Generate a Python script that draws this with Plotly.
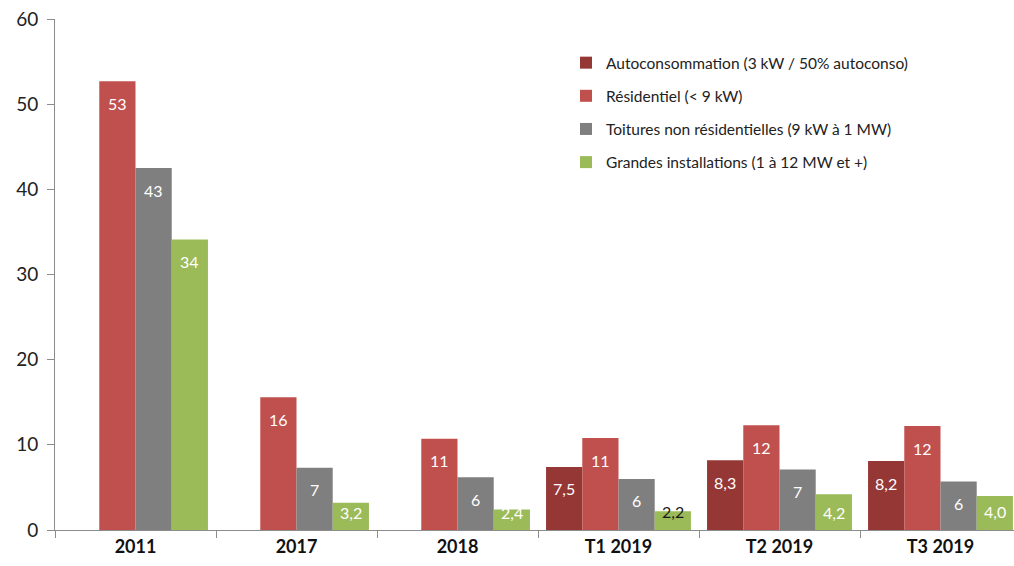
import plotly.graph_objects as go

categories = ["2011", "2017", "2018", "T1 2019", "T2 2019", "T3 2019"]

series_names = [
    "Autoconsommation (3 kW / 50% autoconso)",
    "Résidentiel (< 9 kW)",
    "Toitures non résidentielles (9 kW à 1 MW)",
    "Grandes installations (1 à 12 MW et +)",
]
autoconso = [None, None, None, 7.4, 8.2, 8.1]
residentiel = [52.7, 15.6, 10.7, 10.8, 12.3, 12.2]
toitures = [42.5, 7.3, 6.2, 6.0, 7.1, 5.7]
grandes = [34.1, 3.2, 2.4, 2.2, 4.2, 4.0]

autoconso_txt = ["", "", "", "7,5", "8,3", "8,2"]
residentiel_txt = ["53", "16", "11", "11", "12", "12"]
toitures_txt = ["43", "7", "6", "6", "7", "6"]
grandes_txt = ["34", "3,2", "2,4", "2,2", "4,2", "4,0"]
grandes_txt_colors = ["white", "white", "white", "#1a1a1a", "white", "white"]

colors = ["#953735", "#C0504D", "#7F7F7F", "#9BBB59"]

FONT = "Lato, 'Open Sans', sans-serif"

W, H = 1021, 566
ML, MR, MT, MB = 55, 0, 19, 36
YMAX = 60
BARGAP = 0.1
plot_w = W - ML - MR
plot_h = H - MT - MB
cat_px = plot_w / len(categories)
bar_px = cat_px * (1 - BARGAP) / 4
px_per_unit = plot_h / YMAX

fig = go.Figure()
data = [autoconso, residentiel, toitures, grandes]
texts = [autoconso_txt, residentiel_txt, toitures_txt, grandes_txt]
annotations = []
for i, (name, vals, txt, col) in enumerate(zip(series_names, data, texts, colors)):
    fig.add_trace(go.Bar(
        x=categories, y=vals, name=name,
        marker=dict(color=col, line=dict(width=0)),
        legendgroup=f"g{i}",
    ))
    xshift = (i - 1.5) * bar_px
    for j, (v, t) in enumerate(zip(vals, txt)):
        if v is None or not t:
            continue
        h = v * px_per_unit
        shift = min(22, h - 18)
        tcol = grandes_txt_colors[j] if i == 3 else "white"
        annotations.append(dict(
            x=j, y=v, xref="x", yref="y", text=t, showarrow=False,
            xshift=xshift, yshift=-shift, yanchor="middle", xanchor="center",
            font=dict(family=FONT, size=16, color=tcol),
        ))

fig.update_layout(
    width=W, height=H,
    barmode="group", bargap=BARGAP, bargroupgap=0,
    plot_bgcolor="white", paper_bgcolor="white",
    margin=dict(l=ML, r=MR, t=MT, b=MB),
    font=dict(family=FONT, color="#222"),
    showlegend=True,
    annotations=annotations,
    legend=dict(
        x=0.529, y=0.947, xanchor="left", yanchor="top",
        font=dict(family=FONT, size=15.5, color="#222"),
        tracegroupgap=10, bgcolor="rgba(0,0,0,0)",
        itemwidth=30,
    ),
    xaxis=dict(
        type="category", categoryorder="array", categoryarray=categories,
        range=[-0.5, len(categories) - 0.5],
        showline=True, linecolor="#8c8c8c", linewidth=1,
        ticks="outside", tickson="boundaries", ticklen=7, tickcolor="#8c8c8c",
        tickfont=dict(family=FONT, size=18, color="#111", weight="bold"),
        showgrid=False, automargin=False,
    ),
    yaxis=dict(
        range=[0, YMAX], dtick=10,
        showline=True, linecolor="#8c8c8c", linewidth=1,
        ticks="outside", ticklen=7, tickcolor="#8c8c8c",
        tickfont=dict(family=FONT, size=19, color="#222"),
        ticklabeloverflow="allow", ticklabelstandoff=5,
        showgrid=False, zeroline=False, automargin=False,
    ),
)

fig.write_html(
    "out.html",
    config={"displayModeBar": False},
    post_script="document.body.style.margin='0';document.body.style.overflow='hidden';",
)
